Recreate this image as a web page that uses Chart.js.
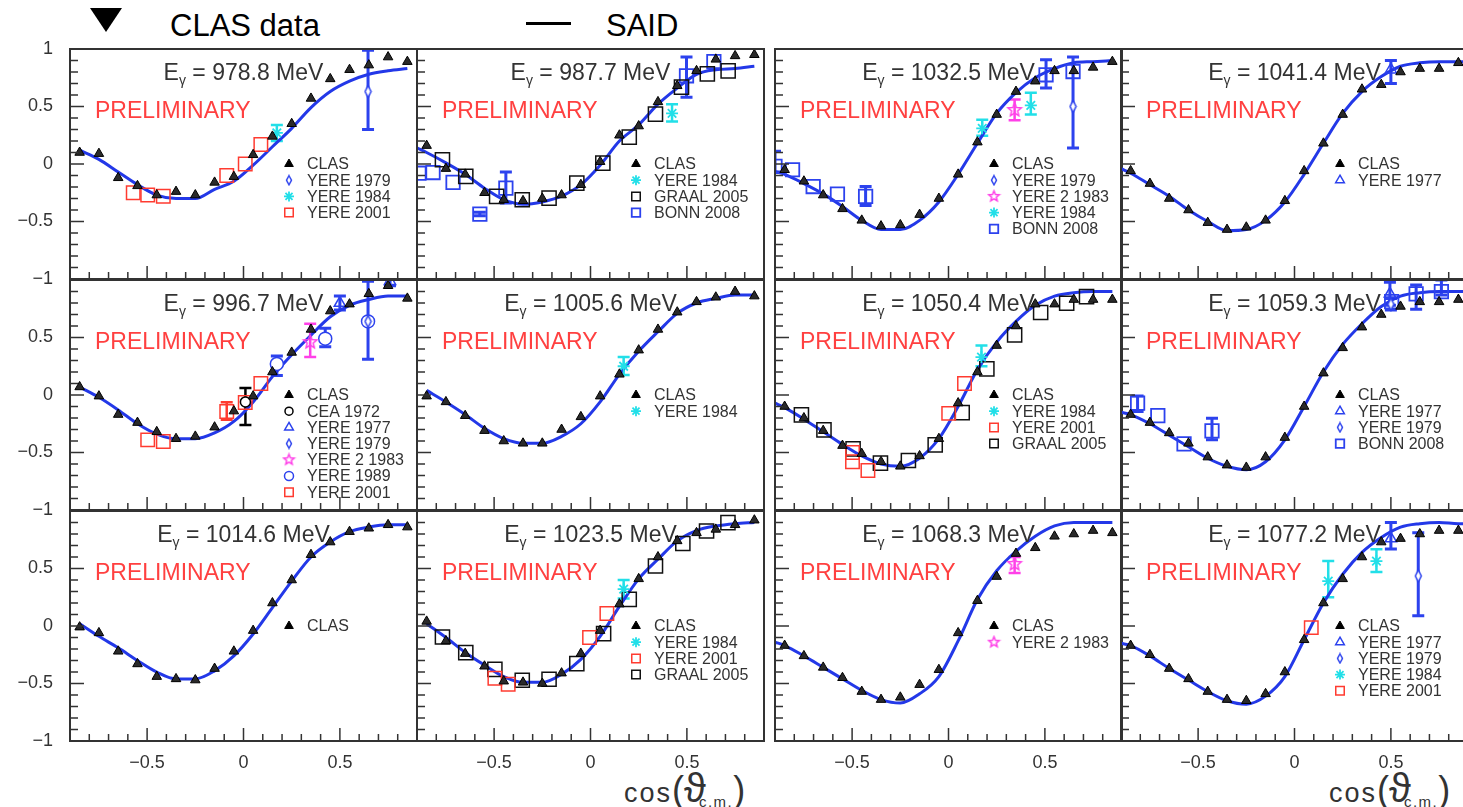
<!DOCTYPE html>
<html>
<head>
<meta charset="utf-8">
<title>CLAS data vs SAID</title>
<script src="https://cdn.jsdelivr.net/npm/chart.js@4.4.1/dist/chart.umd.min.js"></script>
<style>
  html, body { margin: 0; padding: 0; background: #fff; }
  body { width: 1463px; height: 807px; position: relative; overflow: hidden;
         font-family: "Liberation Sans", Arial, Helvetica, sans-serif; color: #000; }
  canvas { position: absolute; }
  .key { position: absolute; font-size: 31px; line-height: 31px; white-space: nowrap; }
  .tri { position: absolute; left: 90px; top: 8px; width: 0; height: 0;
         border-left: 16px solid transparent; border-right: 16px solid transparent; border-top: 24px solid #000; }
  .dash { position: absolute; left: 526px; top: 22px; width: 45px; height: 3px; background: #000; }
  .xtitle { position: absolute; font-size: 27px; line-height: 34px; color: #333; white-space: nowrap; }
  .xtitle .c { letter-spacing: 2px; }
  .xtitle .p { font-size: 36px; font-weight: 300; }
  .xtitle .t { font-size: 40px; }
  .xtitle sub { font-size: 15px; letter-spacing: 1.5px; vertical-align: -5px; margin-left: -7px; }
</style>
</head>
<body>
<div class="tri"></div>
<div class="key" style="left:170px;top:10px">CLAS data</div>
<div class="dash"></div>
<div class="key" style="left:606px;top:10px">SAID</div>
<div class="xtitle" style="left:624px;top:771px"><span class="c">cos</span><span class="p">(</span><span class="t">ϑ</span><sub>c.m.</sub><span class="p">)</span></div>
<div class="xtitle" style="left:1329px;top:771px"><span class="c">cos</span><span class="p">(</span><span class="t">ϑ</span><sub>c.m.</sub><span class="p">)</span></div>
<script>
// photon energies, panels in reading order (row by row)
const ENERGIES = ['978.8', '987.7', '1032.5', '1041.4',
                  '996.7', '1005.6', '1050.4', '1059.3',
                  '1014.6', '1023.5', '1068.3', '1077.2'];

const COS_BINS = [-0.85, -0.75, -0.65, -0.55, -0.45, -0.35, -0.25, -0.15, -0.05,
                  0.05, 0.15, 0.25, 0.35, 0.45, 0.55, 0.65, 0.75, 0.85];

// CLAS asymmetry, one row per panel
const CLAS = [
  [0.10, 0.09, -0.12, -0.19, -0.27, -0.24, -0.27, -0.16, -0.11, 0.08, 0.24, 0.35, 0.57, 0.74, 0.82, 0.86, 0.93, 0.89],
  [0.16, -0.04, -0.09, -0.25, -0.31, -0.32, -0.30, -0.27, -0.18, 0.02, 0.25, 0.33, 0.54, 0.68, 0.81, 0.91, 0.94, 0.95],
  [-0.05, -0.15, -0.27, -0.39, -0.49, -0.54, -0.53, -0.44, -0.30, -0.09, 0.19, 0.43, 0.63, 0.72, 0.81, 0.81, 0.84, 0.89],
  [-0.06, -0.17, -0.30, -0.40, -0.51, -0.57, -0.55, -0.49, -0.32, -0.06, 0.18, 0.43, 0.65, 0.69, 0.80, 0.83, 0.83, 0.88],
  [0.07, -0.01, -0.17, -0.24, -0.32, -0.38, -0.36, -0.28, -0.14, -0.01, 0.20, 0.37, 0.57, 0.73, 0.79, 0.88, 0.95, 0.84],
  [-0.01, -0.06, -0.18, -0.31, -0.40, -0.42, -0.42, -0.30, -0.19, -0.01, 0.18, 0.39, 0.57, 0.72, 0.81, 0.85, 0.90, 0.86],
  [-0.10, -0.20, -0.31, -0.44, -0.51, -0.58, -0.62, -0.53, -0.38, -0.07, 0.20, 0.43, 0.60, 0.79, 0.79, 0.83, 0.83, 0.83],
  [-0.17, -0.24, -0.33, -0.42, -0.54, -0.61, -0.63, -0.54, -0.37, -0.10, 0.19, 0.41, 0.59, 0.70, 0.77, 0.81, 0.81, 0.83],
  [-0.01, -0.06, -0.22, -0.33, -0.44, -0.46, -0.47, -0.37, -0.22, -0.04, 0.20, 0.40, 0.62, 0.73, 0.82, 0.85, 0.88, 0.86],
  [0.04, -0.13, -0.24, -0.35, -0.48, -0.49, -0.50, -0.41, -0.24, -0.04, 0.19, 0.41, 0.60, 0.74, 0.81, 0.84, 0.88, 0.92],
  [-0.17, -0.26, -0.36, -0.45, -0.57, -0.64, -0.62, -0.51, -0.38, -0.06, 0.22, 0.43, 0.63, 0.68, 0.78, 0.80, 0.83, 0.81],
  [-0.17, -0.25, -0.37, -0.46, -0.57, -0.64, -0.65, -0.59, -0.40, -0.12, 0.20, 0.41, 0.60, 0.73, 0.76, 0.80, 0.83, 0.83]
];

// SAID curve (null = curve not drawn there)
const SAID_X = [-0.9, -0.85, -0.75, -0.65, -0.55, -0.45, -0.35, -0.25, -0.15, -0.05,
                0.05, 0.15, 0.25, 0.35, 0.45, 0.55, 0.65, 0.75, 0.85, 0.9];
const SAID = [
  [null, 0.12, 0.04, -0.07, -0.18, -0.27, -0.30, -0.30, -0.22, -0.15, -0.01, 0.15, 0.31, 0.49, 0.63, 0.72, 0.78, 0.81, 0.83, null],
  [0.14, 0.10, 0.01, -0.09, -0.21, -0.31, -0.35, -0.33, -0.28, -0.18, -0.01, 0.20, 0.34, 0.52, 0.66, 0.78, 0.82, 0.83, 0.85, null],
  [-0.065, -0.09, -0.17, -0.26, -0.37, -0.49, -0.57, -0.57, -0.49, -0.33, -0.09, 0.18, 0.44, 0.62, 0.75, 0.83, 0.88, 0.89, 0.90, null],
  [-0.04, -0.08, -0.18, -0.28, -0.40, -0.50, -0.58, -0.57, -0.49, -0.33, -0.09, 0.18, 0.44, 0.63, 0.76, 0.85, 0.88, 0.89, 0.89, 0.89],
  [null, 0.07, -0.02, -0.13, -0.25, -0.34, -0.38, -0.38, -0.33, -0.23, -0.06, 0.16, 0.35, 0.52, 0.68, 0.78, 0.83, 0.86, 0.86, null],
  [null, 0.04, -0.06, -0.17, -0.29, -0.38, -0.42, -0.42, -0.36, -0.25, -0.06, 0.18, 0.38, 0.55, 0.71, 0.80, 0.84, 0.87, 0.87, null],
  [-0.07, -0.11, -0.21, -0.32, -0.43, -0.53, -0.60, -0.62, -0.55, -0.38, -0.10, 0.22, 0.46, 0.64, 0.78, 0.86, 0.89, 0.90, 0.90, null],
  [-0.15, -0.17, -0.25, -0.35, -0.45, -0.55, -0.62, -0.65, -0.58, -0.39, -0.10, 0.20, 0.44, 0.62, 0.77, 0.86, 0.89, 0.90, 0.90, 0.90],
  [null, 0.02, -0.09, -0.19, -0.30, -0.40, -0.46, -0.46, -0.39, -0.26, -0.07, 0.16, 0.39, 0.60, 0.73, 0.82, 0.86, 0.88, 0.88, null],
  [null, 0.02, -0.10, -0.23, -0.34, -0.44, -0.49, -0.49, -0.42, -0.29, -0.09, 0.17, 0.41, 0.58, 0.74, 0.83, 0.87, 0.89, 0.90, null],
  [-0.14, -0.17, -0.26, -0.36, -0.46, -0.56, -0.64, -0.67, -0.59, -0.44, -0.13, 0.23, 0.48, 0.65, 0.78, 0.87, 0.90, 0.90, 0.90, null],
  [-0.15, -0.17, -0.26, -0.37, -0.47, -0.57, -0.65, -0.68, -0.61, -0.44, -0.12, 0.20, 0.45, 0.64, 0.77, 0.86, 0.89, 0.90, 0.89, 0.89]
];

// older measurements: [panel, cos, value, error low, error high]
const CEA_1972 = [[4, 0.01, -0.06, -0.26, 0.06]];
const YERE_1977 = [
  [3, 0.50, 0.82, 0.70, 0.90], [4, 0.50, 0.80, 0.74, 0.86], [4, 0.76, 0.99, 0.95, 1.03],
  [7, 0.495, 0.88, 0.78, 0.98], [11, 0.50, 0.76, 0.67, 0.90]
];
const YERE_1979 = [
  [0, 0.646, 0.63, 0.30, 0.99], [2, 0.646, 0.50, 0.14, 0.93], [4, 0.646, 0.64, 0.31, 0.99],
  [7, 0.50, 0.79, 0.74, 0.84], [11, 0.642, 0.435, 0.09, 0.81]
];
const YERE2_1983 = [[2, 0.343, 0.47, 0.38, 0.56], [4, 0.346, 0.46, 0.33, 0.62], [10, 0.343, 0.54, 0.46, 0.60]];
const YERE_1984 = [
  [0, 0.173, 0.27, 0.20, 0.34], [1, 0.423, 0.44, 0.37, 0.52], [2, 0.175, 0.31, 0.245, 0.385],
  [2, 0.427, 0.51, 0.43, 0.62], [5, 0.172, 0.25, 0.175, 0.33], [6, 0.171, 0.33, 0.25, 0.43],
  [9, 0.172, 0.32, 0.24, 0.40], [11, 0.175, 0.39, 0.25, 0.565], [11, 0.425, 0.565, 0.47, 0.667]
];
const YERE_1989 = [[4, 0.173, 0.27, 0.17, 0.34], [4, 0.424, 0.49, 0.42, 0.58], [4, 0.646, 0.64]];
const YERE_2001 = [
  [0, -0.572, -0.25], [0, -0.497, -0.27], [0, -0.416, -0.28], [0, -0.087, -0.10], [0, 0.009, 0.00], [0, 0.09, 0.17],
  [4, -0.497, -0.39], [4, -0.416, -0.405], [4, -0.087, -0.144, -0.216, -0.063], [4, 0.009, -0.066], [4, 0.09, 0.10],
  [6, -0.498, -0.50], [6, -0.498, -0.58], [6, -0.418, -0.657], [6, 0.001, -0.16], [6, 0.083, 0.10],
  [9, -0.496, -0.455], [9, -0.427, -0.507], [9, -0.005, -0.10], [9, 0.085, 0.108],
  [11, 0.087, -0.014]
];
const GRAAL_2005 = [
  [1, -0.768, 0.037], [1, -0.647, -0.108], [1, -0.487, -0.282], [1, -0.354, -0.311], [1, -0.215, -0.297], [1, -0.071, -0.166],
  [1, 0.064, 0.008], [1, 0.201, 0.234], [1, 0.337, 0.434], [1, 0.472, 0.668], [1, 0.606, 0.784], [1, 0.714, 0.81],
  [6, -0.763, -0.173], [6, -0.646, -0.303], [6, -0.495, -0.469], [6, -0.353, -0.593], [6, -0.208, -0.57], [6, -0.069, -0.434],
  [6, 0.071, -0.153], [6, 0.199, 0.227], [6, 0.343, 0.523], [6, 0.478, 0.717], [6, 0.613, 0.798], [6, 0.716, 0.856],
  [9, -0.768, -0.096], [9, -0.647, -0.231], [9, -0.496, -0.377], [9, -0.354, -0.472], [9, -0.215, -0.463], [9, -0.071, -0.327],
  [9, 0.068, -0.066], [9, 0.201, 0.232], [9, 0.337, 0.522], [9, 0.479, 0.717], [9, 0.602, 0.826], [9, 0.713, 0.899]
];
const BONN_2008 = [
  [1, -0.89, -0.08], [1, -0.817, -0.074], [1, -0.713, -0.16], [1, -0.574, -0.436, -0.45, -0.42],
  [1, -0.439, -0.21, -0.34, -0.07], [1, 0.498, 0.767, 0.58, 0.93], [1, 0.64, 0.891],
  [2, -0.9, -0.02, -0.07, 0.11], [2, -0.809, -0.05], [2, -0.702, -0.196], [2, -0.576, -0.262],
  [2, -0.43, -0.282, -0.361, -0.196], [2, 0.506, 0.776, 0.66, 0.906], [2, 0.646, 0.804],
  [7, -0.814, -0.071, -0.144, -0.008], [7, -0.709, -0.179], [7, -0.573, -0.425], [7, -0.428, -0.312, -0.39, -0.202],
  [7, 0.504, 0.812], [7, 0.631, 0.879, 0.746, 0.957], [7, 0.762, 0.899, 0.87, 1.0]
];

const LEGENDS = [
  ['CLAS', 'YERE 1979', 'YERE 1984', 'YERE 2001'],
  ['CLAS', 'YERE 1984', 'GRAAL 2005', 'BONN 2008'],
  ['CLAS', 'YERE 1979', 'YERE 2 1983', 'YERE 1984', 'BONN 2008'],
  ['CLAS', 'YERE 1977'],
  ['CLAS', 'CEA 1972', 'YERE 1977', 'YERE 1979', 'YERE 2 1983', 'YERE 1989', 'YERE 2001'],
  ['CLAS', 'YERE 1984'],
  ['CLAS', 'YERE 1984', 'YERE 2001', 'GRAAL 2005'],
  ['CLAS', 'YERE 1977', 'YERE 1979', 'BONN 2008'],
  ['CLAS'],
  ['CLAS', 'YERE 1984', 'YERE 2001', 'GRAAL 2005'],
  ['CLAS', 'YERE 2 1983'],
  ['CLAS', 'YERE 1977', 'YERE 1979', 'YERE 1984', 'YERE 2001']
];

const X_TICK_LABELS = [-0.5, 0, 0.5];
const Y_TICK_LABELS = [-1, -0.5, 0, 0.5, 1];

const EXPERIMENTS = [
  ['CEA 1972', CEA_1972], ['YERE 1977', YERE_1977], ['YERE 1979', YERE_1979], ['YERE 2 1983', YERE2_1983],
  ['YERE 1984', YERE_1984], ['YERE 1989', YERE_1989], ['YERE 2001', YERE_2001],
  ['GRAAL 2005', GRAAL_2005], ['BONN 2008', BONN_2008]
];

// ---- layout / styles ----
const FONT = '"Liberation Sans", Arial, Helvetica, sans-serif';
const COL_LEFT = [70, 417, 775, 1121];
const ROW_TOP = [49, 280, 511];
const PANEL_W = 347, PANEL_H = 230;
const PAD_L = 60, PAD_T = 14, PAD_R = 14, PAD_B = 40;
const INK = '#333';
const BLUE = '#2c42ee', CYAN = '#22dfe8', RED = '#ff3b30', MAGENTA = '#ff40e8', SAID_BLUE = '#2338e8';

function marker(w, h, draw) {
  const c = document.createElement('canvas');
  c.width = w; c.height = h;
  draw(c.getContext('2d'), w, h);
  return c;
}
function star5(r, color) {
  const s = Math.ceil(2 * r + 4);
  return marker(s, s, (g) => {
    g.strokeStyle = color; g.lineWidth = 1.5; g.beginPath();
    for (let k = 0; k < 10; k++) {
      const a = -Math.PI / 2 + k * Math.PI / 5, rr = k % 2 ? r * 0.45 : r;
      g.lineTo(s / 2 + rr * Math.cos(a), s / 2 + rr * Math.sin(a));
    }
    g.closePath(); g.stroke();
  });
}
function diamond(w, h, color) {
  return marker(w + 3, h + 3, (g) => {
    g.strokeStyle = color; g.fillStyle = '#fff'; g.lineWidth = 1.5; g.beginPath();
    g.moveTo((w + 3) / 2, 1.5); g.lineTo(w + 1.5, (h + 3) / 2); g.lineTo((w + 3) / 2, h + 1.5); g.lineTo(1.5, (h + 3) / 2);
    g.closePath(); g.fill(); g.stroke();
  });
}

const NONE = 'rgba(0,0,0,0)';
const STYLES = {
  'CLAS':        { style: 'triangle', r: 5.5, fill: '#2a2a2a', stroke: '#000', lw: 1, lr: 5, lfill: '#000' },
  'CEA 1972':    { style: 'circle', r: 5, fill: '#fff', stroke: '#000', lw: 1.5, lr: 4, barW: 2.5 },
  'YERE 1977':   { style: 'triangle', r: 6.5, fill: NONE, stroke: BLUE, lw: 1.5, lr: 5, barW: 3 },
  'YERE 1979':   { style: diamond(6, 12, BLUE), r: 6, fill: NONE, stroke: BLUE, lw: 1.5, lstyle: diamond(5, 9, BLUE), barW: 3 },
  'YERE 2 1983': { style: star5(7, MAGENTA), r: 7, fill: NONE, stroke: MAGENTA, lw: 1.5, lstyle: star5(5.5, MAGENTA), barW: 2.5 },
  'YERE 1984':   { style: 'star', r: 6, fill: NONE, stroke: CYAN, lw: 1.8, lr: 5, barW: 2.5 },
  'YERE 1989':   { style: 'circle', r: 6.5, fill: '#fff', stroke: BLUE, lw: 1.5, lr: 4.5, barW: 3 },
  'YERE 2001':   { style: 'rect', r: 9.5, fill: NONE, stroke: RED, lw: 1.5, lr: 6, barW: 2.5 },
  'GRAAL 2005':  { style: 'rect', r: 10, fill: NONE, stroke: '#111', lw: 1.5, lr: 6, barW: 2 },
  'BONN 2008':   { style: 'rect', r: 9.5, fill: NONE, stroke: BLUE, lw: 1.8, lr: 6, barW: 3 }
};

const fmt = (v) => (v < 0 ? '\u2212' + Math.abs(v) : String(v));

// frame, inner ticks, error bars, labels and the in-panel legend
const panelDecor = {
  id: 'panelDecor',
  beforeDatasetsDraw(chart) {
    const { ctx, chartArea: a } = chart;
    const ys = chart.scales.y;
    ctx.save();
    ctx.beginPath(); ctx.rect(a.left, a.top, a.right - a.left, a.bottom - a.top); ctx.clip();
    chart.data.datasets.forEach((ds, i) => {
      if (!ds.errorColor) return;
      const meta = chart.getDatasetMeta(i);
      ctx.strokeStyle = ds.errorColor; ctx.lineWidth = ds.errorWidth;
      ds.data.forEach((d, j) => {
        if (d.lo == null) return;
        const el = meta.data[j];
        const y1 = ys.getPixelForValue(d.lo), y2 = ys.getPixelForValue(d.hi);
        ctx.beginPath();
        ctx.moveTo(el.x, y1); ctx.lineTo(el.x, y2);
        ctx.moveTo(el.x - 6, y1); ctx.lineTo(el.x + 6, y1);
        ctx.moveTo(el.x - 6, y2); ctx.lineTo(el.x + 6, y2);
        ctx.stroke();
      });
    });
    ctx.restore();
  },
  afterDraw(chart, args, opts) {
    const { ctx, chartArea: a } = chart;
    const xs = chart.scales.x, ys = chart.scales.y;
    ctx.save();
    // ticks pointing inwards
    ctx.strokeStyle = INK; ctx.lineWidth = 1.5; ctx.beginPath();
    for (let k = -10; k <= 10; k++) {
      const py = ys.getPixelForValue(k / 10), len = k % 5 === 0 ? 14 : 8;
      ctx.moveTo(a.left, py); ctx.lineTo(a.left + len, py);
    }
    for (let k = -8; k <= 8; k++) {
      const px = xs.getPixelForValue(k / 10), len = k % 5 === 0 ? 13 : 7;
      ctx.moveTo(px, a.bottom); ctx.lineTo(px, a.bottom - len);
    }
    ctx.stroke();
    ctx.lineWidth = 2;
    ctx.strokeRect(a.left, a.top, a.right - a.left, a.bottom - a.top);

    // title  E_gamma = ... MeV
    const cx = (a.left + a.right) / 2, base = a.top + 31;
    const rest = ' = ' + opts.energy + ' MeV';
    ctx.fillStyle = INK; ctx.textBaseline = 'alphabetic'; ctx.textAlign = 'left';
    ctx.font = '23px ' + FONT; const wE = ctx.measureText('E').width, wR = ctx.measureText(rest).width;
    ctx.font = '14px ' + FONT; const wG = ctx.measureText('\u03b3').width;
    let x0 = cx - (wE + wG + wR) / 2;
    ctx.font = '23px ' + FONT; ctx.fillText('E', x0, base);
    ctx.font = '14px ' + FONT; ctx.fillText('\u03b3', x0 + wE, base + 5);
    ctx.font = '23px ' + FONT; ctx.fillText(rest, x0 + wE + wG, base);

    ctx.fillStyle = '#ff4040'; ctx.font = '23px ' + FONT;
    ctx.fillText('PRELIMINARY', a.left + 25, a.top + 69);

    // legend
    const y0 = ys.getPixelForValue(0);
    ctx.font = '16px ' + FONT; ctx.textBaseline = 'middle';
    opts.legend.forEach((name, i) => {
      const st = STYLES[name], yy = y0 + i * 16.2, mx = a.left + 219;
      ctx.fillStyle = st.lfill || st.fill; ctx.strokeStyle = st.stroke; ctx.lineWidth = st.lw;
      if (Chart.helpers && Chart.helpers.drawPoint) {
        Chart.helpers.drawPoint(ctx, { pointStyle: st.lstyle || st.style, radius: st.lr || st.r, rotation: 0, borderWidth: st.lw }, mx, yy);
      }
      ctx.fillStyle = INK;
      ctx.fillText(name, a.left + 237, yy + 1);
    });
    ctx.restore();
  }
};

// keep every chart area the same size, whatever labels its axes carry
function fixAxis(s) {
  if (s.isHorizontal()) s.height = PAD_B; else s.width = PAD_L;
  s.paddingTop = 0; s.paddingBottom = 0; s.paddingLeft = 0; s.paddingRight = 0;
}

Chart.defaults.font.family = FONT;

ENERGIES.forEach((energy, p) => {
  const col = p % 4, row = Math.floor(p / 4);
  const canvas = document.createElement('canvas');
  canvas.width = PANEL_W + PAD_L + PAD_R;
  canvas.height = PANEL_H + PAD_T + PAD_B;
  canvas.style.left = (COL_LEFT[col] - PAD_L) + 'px';
  canvas.style.top = (ROW_TOP[row] - PAD_T) + 'px';
  document.body.appendChild(canvas);

  const datasets = [];
  datasets.push({
    label: 'SAID',
    data: SAID_X.map((x, i) => ({ x, y: SAID[p][i] })).filter((d) => d.y !== null),
    showLine: true, borderColor: SAID_BLUE, borderWidth: 3, pointRadius: 0,
    cubicInterpolationMode: 'monotone', order: 10
  });
  EXPERIMENTS.forEach(([name, rows]) => {
    const pts = rows.filter((r) => r[0] === p)
      .map((r) => ({ x: r[1], y: r[2], lo: r[3] ?? null, hi: r[4] ?? null }));
    if (!pts.length) return;
    const st = STYLES[name];
    datasets.push({
      label: name, data: pts, pointStyle: st.style, pointRadius: st.r,
      pointBackgroundColor: st.fill, pointBorderColor: st.stroke, pointBorderWidth: st.lw,
      errorColor: st.stroke, errorWidth: st.barW, clip: 0, order: 2
    });
  });
  const cs = STYLES['CLAS'];
  datasets.push({
    label: 'CLAS',
    data: COS_BINS.map((x, i) => ({ x, y: CLAS[p][i] })),
    pointStyle: cs.style, pointRadius: cs.r, pointBackgroundColor: cs.fill,
    pointBorderColor: cs.stroke, pointBorderWidth: cs.lw, order: 1
  });

  new Chart(canvas, {
    type: 'scatter',
    data: { datasets },
    options: {
      responsive: false,
      animation: false,
      events: [],
      layout: { padding: { left: 0, top: PAD_T, right: PAD_R, bottom: 0 } },
      scales: {
        x: {
          type: 'linear', position: 'bottom', min: -0.9, max: 0.9,
          afterBuildTicks: (s) => { s.ticks = X_TICK_LABELS.map((v) => ({ value: v })); },
          afterFit: fixAxis,
          grid: { display: false, drawTicks: false }, border: { display: false },
          ticks: { display: row === 2, padding: 11, color: INK, font: { size: 18 }, maxRotation: 0, callback: (v) => fmt(v) }
        },
        y: {
          type: 'linear', position: 'left', min: -1, max: 1,
          afterBuildTicks: (s) => { s.ticks = Y_TICK_LABELS.map((v) => ({ value: v })); },
          afterFit: fixAxis,
          grid: { display: false, drawTicks: false }, border: { display: false },
          ticks: { display: col === 0, padding: 17, color: INK, font: { size: 18 },
                   callback: (v) => (row > 0 && v === 1 ? '' : fmt(v)) }
        }
      },
      plugins: {
        legend: { display: false },
        tooltip: { enabled: false },
        panelDecor: { energy, legend: LEGENDS[p] }
      }
    },
    plugins: [panelDecor]
  });
});
</script>
</body>
</html>
